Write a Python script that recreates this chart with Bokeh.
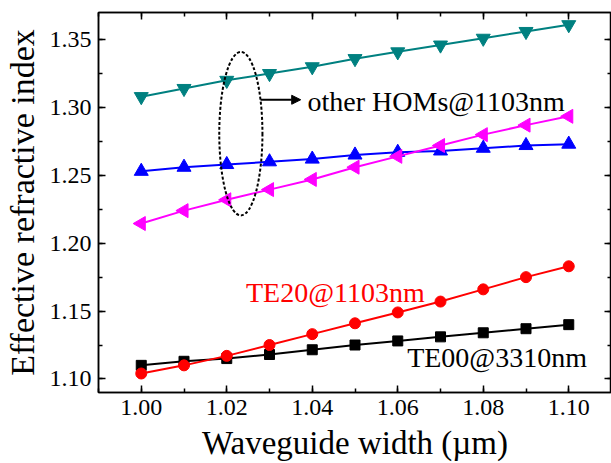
import numpy as np
from bokeh.plotting import figure
from bokeh.models import (LinearAxis, SingleIntervalTicker, PrintfTickFormatter,
                          CustomJSTickFormatter, Range1d, Arrow, NormalHead, Label)
from bokeh.embed import file_html
from bokeh.resources import INLINE

# ---- data ----
width_um = [1.00, 1.01, 1.02, 1.03, 1.04, 1.05, 1.06, 1.07, 1.08, 1.09, 1.10]
hom_teal = [1.308, 1.314, 1.320, 1.325, 1.330, 1.336, 1.341, 1.346, 1.351, 1.356, 1.361]
hom_blue = [1.253, 1.256, 1.258, 1.260, 1.262, 1.265, 1.267, 1.268, 1.270, 1.272, 1.273]
hom_magenta = [1.2145, 1.224, 1.232, 1.2395, 1.247, 1.256, 1.264, 1.272, 1.280, 1.287, 1.2935]
te20_1103 = [1.104, 1.110, 1.117, 1.125, 1.133, 1.141, 1.149, 1.157, 1.166, 1.175, 1.183]
te00_3310 = [1.110, 1.113, 1.115, 1.118, 1.1215, 1.125, 1.128, 1.131, 1.134, 1.137, 1.140]

x_ticks_interval = 0.02
y_ticks_interval = 0.05

FONT = "Liberation Serif"

p = figure(width=611, height=463,
           x_range=Range1d(0.99, 1.11), y_range=Range1d(1.09, 1.37),
           output_backend="svg", toolbar_location=None,
           min_border_left=98, min_border_right=0, min_border_top=12,
           min_border_bottom=68)
p.xgrid.visible = False
p.ygrid.visible = False
p.outline_line_color = "black"
p.outline_line_width = 1.5
p.background_fill_color = "white"
p.border_fill_color = "white"


def style_axis(ax, show_labels=True):
    ax.major_tick_in = 7
    ax.major_tick_out = 0
    ax.minor_tick_in = 4
    ax.minor_tick_out = 0
    ax.axis_line_color = "black"
    ax.axis_line_width = 1.5
    ax.major_tick_line_color = "black"
    ax.major_tick_line_width = 1.5
    ax.minor_tick_line_color = "black"
    ax.minor_tick_line_width = 1.5
    ax.major_label_text_font = FONT
    ax.major_label_text_color = "black"
    ax.major_label_text_font_size = "24px"
    ax.major_label_standoff = 0
    ax.axis_label_text_font = FONT
    ax.axis_label_text_font_style = "normal"
    ax.axis_label_text_color = "black"
    if not show_labels:
        ax.formatter = CustomJSTickFormatter(code="return ''")
        ax.major_label_text_font_size = "1px"


xt = SingleIntervalTicker(interval=x_ticks_interval, num_minor_ticks=2)
yt = SingleIntervalTicker(interval=y_ticks_interval, num_minor_ticks=2)
fmt = PrintfTickFormatter(format="%.2f")

p.xaxis.ticker = xt
p.yaxis.ticker = yt
p.xaxis.formatter = fmt
p.yaxis.formatter = fmt
for ax in p.xaxis:
    style_axis(ax)
for ax in p.yaxis:
    style_axis(ax)
p.xaxis.major_label_standoff = 7
p.xaxis.axis_label = "Waveguide width (µm)"
p.xaxis.axis_label_text_font_size = "33px"
p.xaxis.axis_label_standoff = 7
p.yaxis.major_label_standoff = 7
p.yaxis.axis_label = "Effective refractive index"
p.yaxis.axis_label_text_font_size = "34px"
p.yaxis.axis_label_standoff = 6

top = LinearAxis(ticker=SingleIntervalTicker(interval=x_ticks_interval, num_minor_ticks=2))
style_axis(top, show_labels=False)
p.add_layout(top, "above")
right = LinearAxis(ticker=SingleIntervalTicker(interval=y_ticks_interval, num_minor_ticks=2))
style_axis(right, show_labels=False)
p.add_layout(right, "right")

LW = 2
# teal inverted triangles
p.line(width_um, hom_teal, line_color="#008080", line_width=LW)
p.scatter(width_um, hom_teal, marker="inverted_triangle", size=14,
          fill_color="#008080", line_color="#008080")
# blue triangles
p.line(width_um, hom_blue, line_color="#0000FF", line_width=LW)
p.scatter(width_um, hom_blue, marker="triangle", size=14,
          fill_color="#0000FF", line_color="#0000FF")
# magenta left triangles
p.line(width_um, hom_magenta, line_color="#FF00FF", line_width=LW)
p.scatter(width_um, hom_magenta, marker="triangle", size=14, angle=np.pi / 2,
          fill_color="#FF00FF", line_color="#FF00FF")
# black squares
p.line(width_um, te00_3310, line_color="black", line_width=LW)
p.scatter(width_um, te00_3310, marker="square", size=10,
          fill_color="black", line_color="black")
# red circles
p.line(width_um, te20_1103, line_color="#FF0000", line_width=LW)
p.scatter(width_um, te20_1103, marker="circle", size=11,
          fill_color="#FF0000", line_color="#FF0000")

# dashed ellipse grouping the higher-order modes
p.ellipse(x=[1.0233], y=[1.2807], width=[0.0101], height=[0.1204],
          fill_color=None, line_color="black", line_width=2, line_dash="3 2")

# arrow
p.add_layout(Arrow(end=NormalHead(size=9, fill_color="black", line_color="black"),
                   x_start=1.0279, y_start=1.3057, x_end=1.0373, y_end=1.3057,
                   line_color="black", line_width=2))

p.add_layout(Label(x=1.0389, y=1.3044, text="other HOMs@1103nm",
                   text_font=FONT, text_font_size="28px", text_color="black",
                   text_baseline="alphabetic"))
p.add_layout(Label(x=1.0245, y=1.1637, text="TE20@1103nm",
                   text_font=FONT, text_font_size="28px", text_color="#FF0000",
                   text_baseline="alphabetic"))
p.add_layout(Label(x=1.0622, y=1.1158, text="TE00@3310nm",
                   text_font=FONT, text_font_size="28px", text_color="black",
                   text_baseline="alphabetic"))

open("out.html", "w").write(file_html(p, INLINE))
